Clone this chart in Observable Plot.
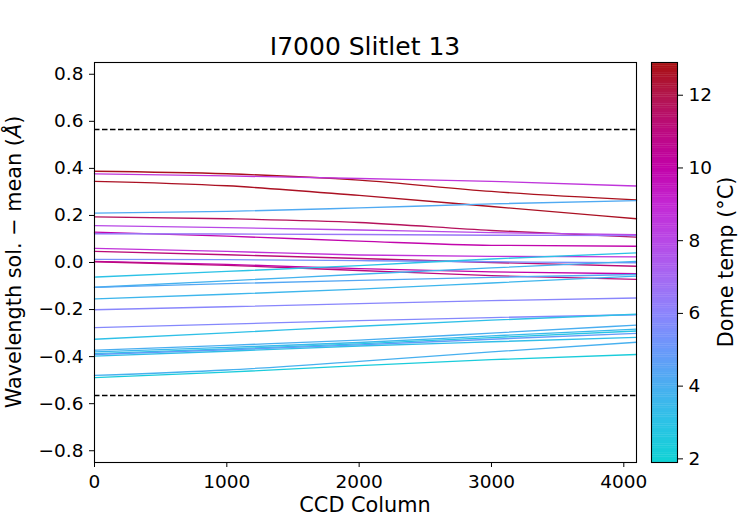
<!DOCTYPE html>
<html>
<head>
<meta charset="utf-8">
<script src="https://cdn.jsdelivr.net/npm/d3@7"></script>
<script src="https://cdn.jsdelivr.net/npm/@observablehq/plot@0.6"></script>
<style>
  html, body { margin: 0; padding: 0; background: white; }
  #chart { position: relative; width: 750px; height: 520px; font-family: "DejaVu Sans", sans-serif; }
  #chart svg { position: absolute; top: 0; }
</style>
</head>
<body>
<div id="chart"></div>
<script>
// ---- data ----
const titleText = "I7000 Slitlet 13";
const columns = [0, 1000, 2000, 3000, 4096];
const xTicks = [0, 1000, 2000, 3000, 4000];
const yTicks = [-0.8, -0.6, -0.4, -0.2, 0.0, 0.2, 0.4, 0.6, 0.8];
const limits = [0.565, -0.565];
const tempTicks = [2, 4, 6, 8, 10, 12];
const tempRange = [1.9, 12.9];

// dome temperature (°C) per exposure
const domeTemps = [
  12.7, 8.6, 12.6, 4.2, 11.7, 8.0, 9.9, 6.5,
  8.7, 11.2, 5.4, 10.0, 11.0, 3.0, 3.8, 4.3, 3.6,
  5.9, 5.8, 3.1, 4.0, 3.5, 2.8, 4.8, 3.2, 3.9, 2.3
];
// wavelength solution minus mean (Å) at each column
const offsets = [
  [0.388, 0.377, 0.350, 0.302, 0.266],
  [0.377, 0.368, 0.357, 0.345, 0.325],
  [0.345, 0.326, 0.285, 0.238, 0.186],
  [0.210, 0.217, 0.232, 0.249, 0.263],
  [0.194, 0.186, 0.170, 0.136, 0.108],
  [0.157, 0.148, 0.138, 0.127, 0.118],
  [0.129, 0.112, 0.091, 0.073, 0.069],
  [0.122, 0.121, 0.119, 0.116, 0.114],
  [0.060, 0.047, 0.032, 0.026, 0.024],
  [0.047, 0.033, 0.017, 0.000, -0.016],
  [0.013, 0.012, 0.008, 0.003, -0.001],
  [0.005, -0.008, -0.026, -0.040, -0.048],
  [0.003, -0.012, -0.034, -0.056, -0.072],
  [-0.062, -0.038, -0.013, 0.015, 0.041],
  [-0.105, -0.078, -0.050, -0.023, 0.005],
  [-0.106, -0.090, -0.076, -0.063, -0.051],
  [-0.155, -0.135, -0.113, -0.087, -0.058],
  [-0.201, -0.188, -0.175, -0.162, -0.151],
  [-0.277, -0.262, -0.247, -0.234, -0.222],
  [-0.326, -0.299, -0.271, -0.245, -0.220],
  [-0.373, -0.352, -0.330, -0.300, -0.266],
  [-0.380, -0.361, -0.340, -0.312, -0.283],
  [-0.387, -0.367, -0.346, -0.319, -0.291],
  [-0.391, -0.371, -0.350, -0.326, -0.301],
  [-0.398, -0.377, -0.355, -0.337, -0.318],
  [-0.480, -0.457, -0.420, -0.380, -0.339],
  [-0.489, -0.466, -0.438, -0.413, -0.391]
];

// colormap stops
const cmapDomain = [1.9, 3, 4, 5, 6, 7, 8, 9, 10, 11, 12, 12.9];
const cmapRange = ["#10d2d4", "#2cc2e6", "#4aaef0", "#6a98fa", "#8c84fc", "#a668f2",
                   "#b848e6", "#c428d4", "#c202a8", "#bc0a80", "#b2164c", "#a80f0f"];

// ---- build ----
const tidy = offsets.flatMap((vals, i) =>
  vals.map((v, j) => ({id: i, col: columns[j], off: v, temp: domeTemps[i]})));

const colorScale = {type: "linear", domain: cmapDomain, range: cmapRange, interpolate: "rgb"};
const tickFont = "18.5px";
const baseStyle = {fontFamily: "DejaVu Sans, sans-serif", fontSize: tickFont, color: "black", background: "transparent", overflow: "visible"};

const main = Plot.plot({
  width: 750, height: 520,
  marginLeft: 94, marginRight: 114, marginTop: 62, marginBottom: 58,
  style: baseStyle,
  x: {domain: [0, 4096]},
  y: {domain: [-0.85, 0.85]},
  color: colorScale,
  marks: [
    Plot.ruleY(limits, {stroke: "black", strokeWidth: 1.4, strokeDasharray: "5.5,2.5"}),
    Plot.line(tidy, {x: "col", y: "off", z: "id", stroke: "temp", strokeWidth: 1.35, curve: "monotone-x"}),
    Plot.frame({stroke: "black", strokeWidth: 1.1}),
    Plot.axisX({ticks: xTicks, tickFormat: d => String(d), tickSize: 5, tickPadding: 7, label: null}),
    Plot.axisY({ticks: yTicks, tickFormat: d3.format(".1f"), tickSize: 5, tickPadding: 6, label: null})
  ]
});
main.style.left = "0px";
main.querySelectorAll("text").forEach(t => { t.style.fontSize = tickFont; });

const ms = d3.select(main);
ms.append("text").attr("x", 365).attr("y", 55).attr("text-anchor", "middle")
  .style("font-size", "25px").attr("fill", "black").text(titleText);
ms.append("text").attr("x", 365).attr("y", 512).attr("text-anchor", "middle")
  .style("font-size", "20.8px").attr("fill", "black").text("CCD Column");
const yl = ms.append("text").attr("transform", "translate(21,262) rotate(-90)")
  .attr("text-anchor", "middle").style("font-size", "20.8px").attr("fill", "black");
yl.append("tspan").text("Wavelength sol. \u2212 mean (");
yl.append("tspan").attr("font-style", "italic").text("Å");
yl.append("tspan").text(")");

const step = 0.05;
const bands = d3.range(tempRange[0], tempRange[1], step);
const cb = Plot.plot({
  width: 110, height: 520,
  marginLeft: 11, marginRight: 73, marginTop: 62, marginBottom: 58,
  style: baseStyle,
  x: {domain: [0, 1], axis: null},
  y: {domain: tempRange},
  color: colorScale,
  marks: [
    Plot.rect(bands, {x1: () => 0, x2: () => 1, y1: d => d, y2: d => Math.min(d + step * 1.2, tempRange[1]), fill: d => d + step / 2}),
    Plot.frame({stroke: "black", strokeWidth: 1.1}),
    Plot.axisY({anchor: "right", ticks: tempTicks, tickFormat: d => String(d), tickSize: 5, tickPadding: 6, label: null})
  ]
});
cb.style.left = "640px";
cb.querySelectorAll("text").forEach(t => { t.style.fontSize = tickFont; });
d3.select(cb).append("text").attr("transform", "translate(93,262) rotate(-90)")
  .attr("text-anchor", "middle").style("font-size", "20.8px").attr("fill", "black")
  .text("Dome temp (°C)");

const chart = document.getElementById("chart");
chart.appendChild(main);
chart.appendChild(cb);
</script>
</body>
</html>
